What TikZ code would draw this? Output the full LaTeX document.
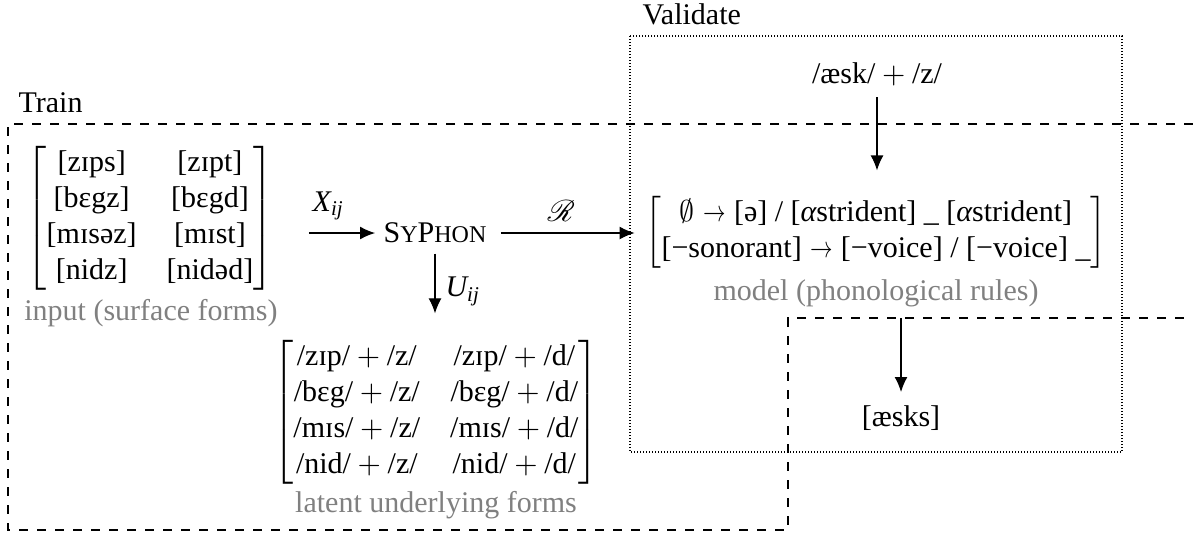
\documentclass[tikz,border=0pt]{standalone}
\usepackage{amsmath}
\usepackage{fontspec}
\setmainfont{Liberation Serif}
\usetikzlibrary{arrows.meta}
\DeclareMathAlphabet{\myscr}{U}{rsfs}{m}{n}
\newcommand{\syphon}{S{\footnotesize Y}P{\footnotesize HON}}
\newcommand{\ar}{\mathrel{\scalebox{0.75}[1]{$\rightarrow$}}}
\newcommand{\iv}[1]{\text{\itshape #1}}
\begin{document}
\begin{tikzpicture}[x=0.33333pt,y=-0.33333pt,
  arr/.style={-{Latex[length=5pt,width=4.3pt]}},
  lbl/.style={inner sep=0pt},
  note/.style={inner sep=0pt, text=gray},
  trainbox/.style={dashed},
  validbox/.style={dash pattern=on 0.4pt off 0.6pt}]
\useasboundingbox (0,0) rectangle (1193,537);
% regions
\draw[validbox] (630,36) rectangle (1122,452);
\draw[trainbox] (1193,124) -- (8,124) -- (8,530) -- (788,530) -- (788,318) -- (1193,318);
\node[lbl,anchor=base west] (vtitle) at (642,24) {Validate};
\node[lbl,anchor=base west] (ttitle) at (18,112) {Train};
% input
\node[lbl] (inmat) at (150,218) {$\begin{bmatrix} \text{[zɪps]} & \text{[zɪpt]}\\ \text{[bɛgz]} & \text{[bɛgd]}\\ \text{[mɪsəz]} & \text{[mɪst]}\\ \text{[nidz]} & \text{[nidəd]}\end{bmatrix}$};
\node[note] (inlbl) at (151,313) {input (surface forms)};
% syphon
\node[lbl] (syphon) at (435,233) {\syphon};
% latent
\node[lbl] (latent) at (436,412) {$\begin{bmatrix} \text{/zɪp/}+\text{/z/} & \text{/zɪp/}+\text{/d/}\\ \text{/bɛg/}+\text{/z/} & \text{/bɛg/}+\text{/d/}\\ \text{/mɪs/}+\text{/z/} & \text{/mɪs/}+\text{/d/}\\ \text{/nid/}+\text{/z/} & \text{/nid/}+\text{/d/}\end{bmatrix}$};
\node[note] (latlbl) at (436,505) {latent underlying forms};
% validate
\node[lbl] (ask) at (877,74) {$\text{/æsk/}+\text{/z/}$};
\node[lbl] (rules) at (876,232) {$\begin{bmatrix} \emptyset \ar \text{[ə] / [\itshape α\upshape strident] \_ [\itshape α\upshape strident]} \\ \text{[−sonorant]} \ar \text{[−voice] / [−voice] \_} \end{bmatrix}$};
\node[note] (rulelbl) at (876,293) {model (phonological rules)};
\node[lbl] (out) at (901,418) {[æsks]};
\coordinate (ostart) at (901,318);
% arrows
\draw[arr,shorten <=11.67pt,shorten >=2.67pt] (inmat.east |- syphon.west) -- node[lbl,above=4pt] (xlbl) {$\iv{X}_{\iv{ij}}$} (syphon.west);
\draw[arr,shorten <=4.67pt,shorten >=3.5pt] (syphon.east) -- node[lbl,above=3.7pt,pos=0.47] (rlbl) {$\myscr{R}$} (syphon.east -| rules.west);
\draw[arr,shorten <=3.33pt,shorten >=8.67pt] (syphon.south) -- node[lbl,right=3.3pt] (ulbl) {$\iv{U}_{\iv{ij}}$} (syphon.south |- latent.north);
\draw[arr,shorten <=3.67pt,shorten >=8.33pt] (ask.south) -- (ask.south |- rules.north);
\draw[arr,shorten >=4.33pt] (ostart) -- (out.north);
\end{tikzpicture}
\end{document}
